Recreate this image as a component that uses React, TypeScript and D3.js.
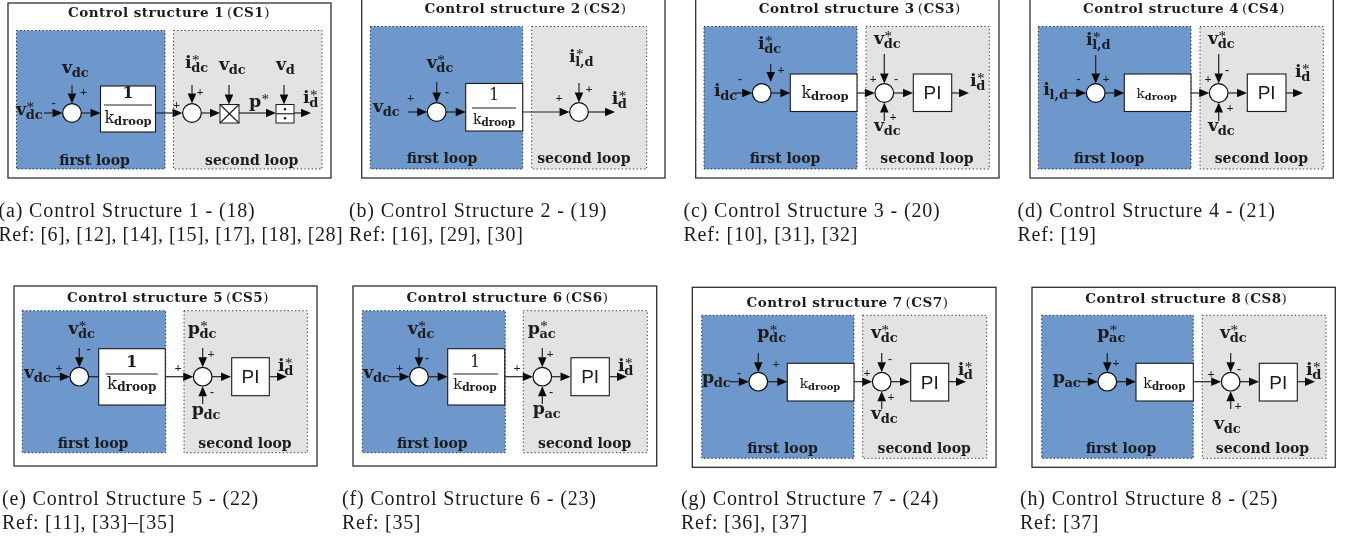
import React, { useEffect, useRef } from "react";
import * as d3 from "d3";

const titleWords = ["Control structure 1", "Control structure 2", "Control structure 3", "Control structure 4", "Control structure 5", "Control structure 6", "Control structure 7", "Control structure 8"];
const titleCodes = ["(CS1)", "(CS2)", "(CS3)", "(CS4)", "(CS5)", "(CS6)", "(CS7)", "(CS8)"];
const captions = ["(a) Control Structure 1 - (18)", "(b) Control Structure 2 - (19)", "(c) Control Structure 3 - (20)", "(d) Control Structure 4 - (21)", "(e) Control Structure 5 - (22)", "(f) Control Structure 6 - (23)", "(g) Control Structure 7 - (24)", "(h) Control Structure 8 - (25)"];
const references = ["Ref: [6], [12], [14], [15], [17], [18], [28]", "Ref: [16], [29], [30]", "Ref: [10], [31], [32]", "Ref: [19]", "Ref: [11], [33]\u2013[35]", "Ref: [35]", "Ref: [36], [37]", "Ref: [37]"];
const loopNames = ["first loop", "second loop"];
const droopSizes = [16, 14.3, 16, 13.7, 16.7, 14.7, 13.7, 14.3];

type Sym = [number, number, string, string, string]; // x, baseline, base, sub, sup
type Sign = [number, number, string];
type Seg = [number, number, number, number];
type Layout = {
  frame: number[]; blue: number[]; gray: number[]; title: number[]; loops: number[];
  sums: number[][]; block: number[]; gain: "frac" | "k"; gainText: number[]; pi?: number[];
  arrows: Seg[]; plain?: Seg[]; syms: Sym[]; signs: Sign[]; caption: number[];
};

const layouts: Layout[] = [
  { frame: [8, 3, 331, 178], blue: [16.5, 30.5, 165, 169], gray: [173.5, 30.5, 322, 169], title: [169, 17], loops: [94.5, 251.7, 165],
    sums: [[72, 113], [192, 113]], block: [100.5, 86, 155.5, 132], gain: "frac", gainText: [128, 98, 105, 104, 152, 123],
    arrows: [[44, 113, 62.5, 113], [81.5, 113, 100.5, 113], [155.5, 113, 182.5, 113], [201.5, 113, 220, 113], [239, 113, 276, 113], [294, 113, 311, 113], [72, 85, 72, 103.5], [192, 85, 192, 103.5], [229, 85, 229, 104.5], [284, 85, 284, 104.5]],
    syms: [[62, 73, "v", "dc", ""], [16, 115, "v", "dc", "*"], [185, 68, "i", "dc", "*"], [219, 70, "v", "dc", ""], [276, 70, "v", "d", ""], [249, 107, "p", "", "*"], [303, 103, "i", "d", "*"]],
    signs: [[83.5, 96, "+"], [53.5, 107, "-"], [176.5, 109, "+"], [200, 96, "+"]], caption: [-1.5, 216.7, 240.7] },
  { frame: [361.7, -1, 665, 178], blue: [370.3, 26.5, 522.7, 169], gray: [531.7, 26.5, 646.7, 169], title: [525.5, 13], loops: [442, 583.8, 163],
    sums: [[436.7, 112], [579, 112]], block: [465.7, 83.5, 522.7, 131], gain: "frac", gainText: [494, 100, 108, 472, 516, 124],
    arrows: [[408, 112, 427.2, 112], [446.2, 112, 465.7, 112], [522.7, 112, 569.5, 112], [588.5, 112, 615, 112], [436.7, 82, 436.7, 102.5], [579, 83, 579, 102.5]],
    syms: [[373, 112, "v", "dc", ""], [426.7, 68, "v", "dc", "*"], [569, 62, "i", "l,d", "*"], [611.7, 104, "i", "d", "*"]],
    signs: [[410.5, 102, "+"], [447, 96, "-"], [559, 102, "+"], [589, 93, "+"]], caption: [349, 216.7, 240.7] },
  { frame: [695.7, -1, 999, 178], blue: [704, 26.5, 857, 169], gray: [866, 26.5, 989.3, 169], title: [859.7, 13], loops: [785, 927, 163],
    sums: [[761.7, 93], [884.3, 93]], block: [790.3, 74, 857, 111.5], gain: "k", gainText: [825, 98], pi: [913.3, 74, 951.7, 111.5],
    arrows: [[733, 93, 752.2, 93], [771.2, 93, 790.3, 93], [857, 93, 874.8, 93], [893.8, 93, 913, 93], [951.7, 93, 969, 93], [770.7, 64, 770.7, 82], [884.3, 54, 884.3, 83.5], [884.3, 121, 884.3, 102.5]],
    syms: [[758, 49, "i", "dc", "*"], [714, 96, "i", "dc", ""], [874, 44, "v", "dc", "*"], [874, 131, "v", "dc", ""], [970, 86, "i", "d", "*"]],
    signs: [[781, 74, "+"], [740, 83, "-"], [873, 83, "+"], [896, 83, "-"], [893, 121, "+"]], caption: [683.5, 216.7, 240.7] },
  { frame: [1030, -1, 1333.3, 178], blue: [1038.3, 26.5, 1191, 169], gray: [1200, 26.5, 1323.3, 169], title: [1184, 13], loops: [1109, 1261.3, 163],
    sums: [[1095.7, 93], [1218.7, 93]], block: [1124.3, 74, 1191, 111.5], gain: "k", gainText: [1156.7, 98], pi: [1247.3, 74, 1286, 111.5],
    arrows: [[1066.7, 93, 1086.2, 93], [1105.2, 93, 1124.3, 93], [1191, 93, 1209.2, 93], [1228.2, 93, 1247, 93], [1286, 93, 1303, 93], [1095.7, 55, 1095.7, 83.5], [1218.7, 54, 1218.7, 83.5], [1218.7, 121, 1218.7, 102.5]],
    syms: [[1086, 45, "i", "l,d", "*"], [1043.3, 95, "i", "l,d", ""], [1208, 44, "v", "dc", "*"], [1208, 131, "v", "dc", ""], [1295, 77, "i", "d", "*"]],
    signs: [[1106, 83, "+"], [1078.5, 83, "-"], [1208, 83, "+"], [1227, 74, "-"], [1230, 112, "+"]], caption: [1017.5, 216.7, 240.7] },
  { frame: [14, 286, 317, 466], blue: [22.3, 310.7, 165.7, 452.7], gray: [184, 310.7, 307.3, 452.7], title: [168, 301.7], loops: [93, 245, 447.7],
    sums: [[79.3, 376.7], [202.7, 376.7]], block: [98.7, 348.7, 165.3, 405], gain: "frac", gainText: [131.7, 367, 374, 105.7, 157.7, 389],
    pi: [231.7, 357.7, 269.3, 395.7],
    arrows: [[49, 376.7, 69.8, 376.7], [165.3, 376.7, 193.2, 376.7], [212.2, 376.7, 231, 376.7], [269.3, 376.7, 287, 376.7], [79.3, 348, 79.3, 367.2], [202.7, 348, 202.7, 367.2], [202.7, 404, 202.7, 386.2]],
    plain: [[88.8, 376.7, 98.7, 376.7]],
    syms: [[68.3, 334, "v", "dc", "*"], [24, 378, "v", "dc", ""], [187.7, 334, "p", "dc", "*"], [191.7, 415, "p", "dc", ""], [278, 371, "i", "d", "*"]],
    signs: [[59, 371.5, "+"], [88.7, 353, "-"], [178, 372, "+"], [211, 358, "+"], [212, 396, "-"]], caption: [2, 505, 529] },
  { frame: [353, 286, 656.7, 466], blue: [362.3, 310.7, 505.3, 452.7], gray: [523.3, 310.7, 647.3, 452.7], title: [507.5, 301.7], loops: [432.3, 584.7, 447.7],
    sums: [[419, 376.7], [542.3, 376.7]], block: [447.7, 348.7, 504.7, 405], gain: "frac", gainText: [475, 367, 374, 453.3, 498, 389], pi: [571, 357.7, 609.3, 395.7],
    arrows: [[389, 376.7, 409.5, 376.7], [428.5, 376.7, 447.7, 376.7], [504.7, 376.7, 532.8, 376.7], [551.8, 376.7, 570.5, 376.7], [609.3, 376.7, 627, 376.7], [419, 348, 419, 367.2], [542.3, 348, 542.3, 367.2], [542.3, 404, 542.3, 386.2]],
    syms: [[407.7, 334, "v", "dc", "*"], [363.3, 378, "v", "dc", ""], [527.7, 334, "p", "ac", "*"], [532.7, 414, "p", "ac", ""], [618, 371, "i", "d", "*"]],
    signs: [[399.5, 371.5, "+"], [427, 362, "-"], [517, 372, "+"], [550, 358, "+"], [551, 396, "-"]], caption: [342, 505, 529] },
  { frame: [692.3, 287.3, 996, 467.3], blue: [701.7, 315.3, 854, 458.3], gray: [862.7, 315.3, 986.7, 458.3], title: [847.5, 306.7], loops: [782.5, 924.2, 453.3],
    sums: [[758.3, 381.7], [881.7, 381.7]], block: [787.3, 363.3, 854, 401], gain: "k", gainText: [820, 388], pi: [910.7, 363.3, 948.7, 401],
    arrows: [[730, 381.7, 748.8, 381.7], [767.8, 381.7, 787.3, 381.7], [854, 381.7, 872.2, 381.7], [891.2, 381.7, 910, 381.7], [948.7, 381.7, 966, 381.7], [758.3, 353, 758.3, 372.2], [881.7, 353, 881.7, 372.2], [881.7, 409, 881.7, 391.2]],
    syms: [[757.3, 338, "p", "dc", "*"], [702, 383, "p", "dc", ""], [871, 338, "v", "dc", "*"], [871, 419, "v", "dc", ""], [957.7, 375, "i", "d", "*"]],
    signs: [[776, 367.5, "+"], [739, 377, "-"], [867, 377, "+"], [890, 363, "-"], [891, 401, "+"]], caption: [681, 505, 529] },
  { frame: [1032, 287.3, 1335.3, 467.3], blue: [1041.7, 315.3, 1193.3, 458.3], gray: [1202.3, 315.3, 1326, 458.3], title: [1186.3, 303.3], loops: [1121, 1262.5, 453.3],
    sums: [[1107.3, 381.7], [1230.7, 381.7]], block: [1136, 363.3, 1193.3, 401], gain: "k", gainText: [1164.3, 388], pi: [1259.3, 363.3, 1297.3, 401],
    arrows: [[1078, 381.7, 1097.8, 381.7], [1116.8, 381.7, 1136, 381.7], [1193.3, 381.7, 1221.2, 381.7], [1240.2, 381.7, 1259, 381.7], [1297.3, 381.7, 1315, 381.7], [1107.3, 353, 1107.3, 372.2], [1230.7, 353, 1230.7, 372.2], [1230.7, 409, 1230.7, 391.2]],
    syms: [[1097.3, 338, "p", "ac", "*"], [1052.7, 383, "p", "ac", ""], [1220, 338, "v", "dc", "*"], [1214, 429, "v", "dc", ""], [1306, 375, "i", "d", "*"]],
    signs: [[1116, 367, "+"], [1090, 377, "-"], [1211, 377.5, "+"], [1239, 373, "-"], [1238, 410, "+"]], caption: [1020, 505, 529] },
];

// Multiply/divide blocks appear only in the first structure.
const multiplyBlock = [220, 104.5, 239, 123];
const divideBlock = [276, 104.5, 294, 123];

const INK = "#1c1c1c";
const SERIF = "'DejaVu Serif', serif";
const TIMES = "'Liberation Serif', serif";
const segLine = d3.line();

function App() {
  const ref = useRef<SVGSVGElement>(null);
  useEffect(() => {
    const svg = d3.select(ref.current!);
    svg.selectAll("*").remove();

    const rect = (g: any, r: number[], fill: string, stroke: string, w: number, dash?: string) =>
      g.append("rect").attr("x", r[0]).attr("y", r[1]).attr("width", r[2] - r[0]).attr("height", r[3] - r[1])
        .attr("fill", fill).attr("stroke", stroke).attr("stroke-width", w).attr("stroke-dasharray", dash ?? null);

    const seg = (g: any, s: Seg, w = 1.2) =>
      g.append("path").attr("d", segLine([[s[0], s[1]], [s[2], s[3]]])).attr("stroke", "#222").attr("stroke-width", w).attr("fill", "none");

    const arrow = (g: any, s: Seg) => {
      const a = Math.atan2(s[3] - s[1], s[2] - s[0]);
      const len = 10, half = 4.3;
      const bx = s[2] - len * Math.cos(a), by = s[3] - len * Math.sin(a);
      seg(g, [s[0], s[1], bx, by]);
      const p = d3.path();
      p.moveTo(s[2], s[3]);
      p.lineTo(bx - half * Math.sin(a), by + half * Math.cos(a));
      p.lineTo(bx + half * Math.sin(a), by - half * Math.cos(a));
      p.closePath();
      g.append("path").attr("d", p.toString()).attr("fill", "#0a0a0a");
    };

    const txt = (g: any, x: number, y: number, s: string, size: number, weight: string | number, anchor = "start", family = SERIF, spacing = 0) =>
      g.append("text").attr("x", x).attr("y", y).attr("font-family", family).attr("font-size", size)
        .attr("font-weight", weight).attr("text-anchor", anchor).attr("letter-spacing", spacing || null).attr("fill", INK).text(s);

    // One text element per symbol: base letter, subscript and a superscript star stacked above it.
    const symbol = (g: any, [x, y, base, sub, sup]: Sym) => {
      const t = txt(g, x, y, "", 17.5, "bold");
      t.append("tspan").text(base);
      const w = (t.node() as SVGTextElement).getComputedTextLength();
      if (sup) t.append("tspan").attr("x", x + w + 0.3).attr("y", y - 3.5).attr("font-size", 15).attr("font-weight", "normal").attr("font-family", TIMES).attr("fill", "#111").text(sup);
      if (sub) t.append("tspan").attr("x", x + w - 0.5).attr("y", y + 4).attr("font-size", 13).text(sub);
    };

    const droop = (g: any, cx: number, y: number, kSize: number) => {
      const t = g.append("text").attr("x", cx).attr("y", y).attr("text-anchor", "middle").attr("font-family", SERIF).attr("fill", INK);
      t.append("tspan").attr("font-size", kSize).attr("font-weight", 500).text("k");
      t.append("tspan").attr("font-size", kSize * 0.72).attr("font-weight", "bold").attr("dy", 2).text("droop");
    };

    const root = svg.append("g").style("filter", "blur(0.25px)");
    const panels = root.selectAll("g.panel").data(layouts).join("g").attr("class", "panel");
    panels.each(function (l: Layout, i: number) {
      const g = d3.select(this as SVGGElement);
      rect(g, l.frame, "#fff", "#2e2e2e", 1.3);
      rect(g, l.blue, "#6e97cc", "#111", 0.9, "1.3 2.4");
      rect(g, l.gray, "#e3e3e3", "#222", 0.9, "1.3 2.4");

      const t = g.append("text").attr("x", l.title[0]).attr("y", l.title[1]).attr("text-anchor", "middle")
        .attr("font-family", SERIF).attr("font-size", 13.5).attr("letter-spacing", 0.5).attr("fill", INK);
      t.append("tspan").attr("font-weight", "bold").text(titleWords[i]);
      t.append("tspan").attr("dx", 3).attr("font-weight", "normal").text("(");
      t.append("tspan").attr("font-weight", "bold").text(titleCodes[i].slice(1, -1));
      t.append("tspan").attr("font-weight", "normal").text(")");

      txt(g, l.loops[0], l.loops[2], loopNames[0], 14, "bold", "middle");
      txt(g, l.loops[1], l.loops[2], loopNames[1], 14, "bold", "middle");

      l.plain?.forEach((s) => seg(g, s));
      l.arrows.forEach((s) => arrow(g, s));

      l.sums.forEach(([x, y]) =>
        g.append("circle").attr("cx", x).attr("cy", y).attr("r", 9.3).attr("fill", "#fff").attr("stroke", "#0a0a0a").attr("stroke-width", 1.2));

      rect(g, l.block, "#fff", "#1a1a1a", 1.1);
      if (l.gain === "frac") {
        const [cx, oneY, lineY, x0, x1, kY] = l.gainText;
        txt(g, cx, oneY, "1", 16, droopSizes[i] > 15 ? "bold" : "normal", "middle");
        seg(g, [x0, lineY, x1, lineY], 1.2);
        droop(g, cx, kY, droopSizes[i]);
      } else {
        droop(g, l.gainText[0], l.gainText[1], droopSizes[i]);
      }
      if (l.pi) {
        rect(g, l.pi, "#fff", "#1a1a1a", 1.1);
        txt(g, (l.pi[0] + l.pi[2]) / 2, (l.pi[1] + l.pi[3]) / 2 + 6.5, "PI", 19, "normal", "middle", "'Liberation Sans', sans-serif");
      }
      if (i === 0) {
        rect(g, multiplyBlock, "#fff", "#1a1a1a", 1);
        seg(g, [multiplyBlock[0], multiplyBlock[1], multiplyBlock[2], multiplyBlock[3]]);
        seg(g, [multiplyBlock[0], multiplyBlock[3], multiplyBlock[2], multiplyBlock[1]]);
        rect(g, divideBlock, "#fff", "#1a1a1a", 1);
        const my = (divideBlock[1] + divideBlock[3]) / 2, mx = (divideBlock[0] + divideBlock[2]) / 2;
        seg(g, [divideBlock[0], my, divideBlock[2], my]);
        [my - 4.5, my + 4.5].forEach((cy) => g.append("circle").attr("cx", mx).attr("cy", cy).attr("r", 1.2).attr("fill", "#111"));
      }

      l.syms.forEach((s) => symbol(g, s));
      l.signs.forEach(([x, y, c]) => txt(g, x, y, c, 12.5, "bold", "middle", TIMES));

      txt(g, l.caption[0], l.caption[1], captions[i], 20, "normal", "start", TIMES, 0.85);
      txt(g, l.caption[0], l.caption[2], references[i], 20, "normal", "start", TIMES, i === 0 ? 0.5 : 0.72);
    });
  }, []);

  return <svg ref={ref} width={1345} height={541} style={{ position: "absolute", left: 0, top: 0, background: "#fff" }} />;
}

export default App;
